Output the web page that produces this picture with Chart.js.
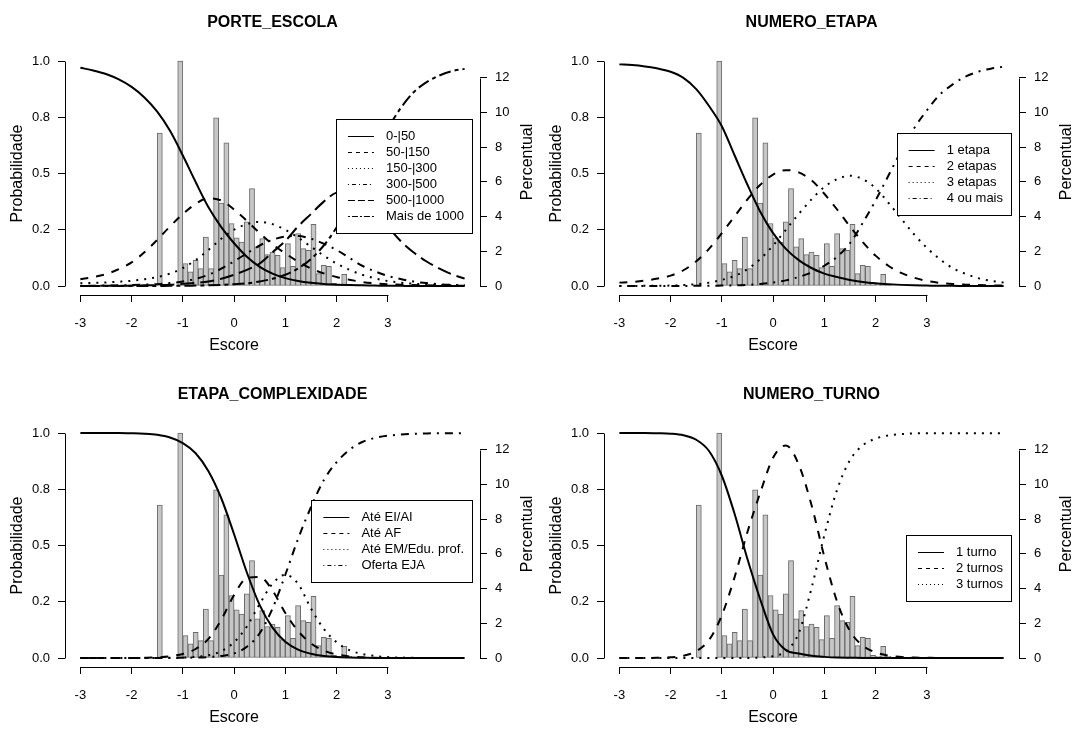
<!DOCTYPE html>
<html><head><meta charset="utf-8">
<script src="https://cdn.jsdelivr.net/npm/chart.js@4/dist/chart.umd.min.js"></script>
<style>
html,body{margin:0;padding:0;background:#fff;}
#wrap{position:relative;width:1077px;height:744px;overflow:hidden;background:#fff;}
canvas{position:absolute;display:block;}
</style></head><body><div id="wrap">
<canvas id="c1" width="538" height="372" style="left:0px;top:0px"></canvas>
<canvas id="c2" width="538" height="372" style="left:539px;top:0px"></canvas>
<canvas id="c3" width="538" height="372" style="left:0px;top:372px"></canvas>
<canvas id="c4" width="538" height="372" style="left:539px;top:372px"></canvas>
</div>
<script>
// ---------- data ----------
const SCORE = [-3,-2.75,-2.5,-2.25,-2,-1.75,-1.5,-1.25,-1,-0.75,-0.5,-0.25,0,0.25,0.5,0.75,1,1.25,1.5,1.75,2,2.25,2.5,2.75,3,3.25,3.5,3.75,4,4.25,4.5];
const X_TICKS = [-3,-2,-1,0,1,2,3];
const Y_TICKS = [0,0.25,0.5,0.75,1];
const Y_TICK_LABELS = ['0.0','0.2','0.5','0.8','1.0'];
const PCT_TICKS = [0,2,4,6,8,10,12];

const HIST_MID = [-1.45,-1.35,-1.25,-1.15,-1.05,-0.95,-0.85,-0.75,-0.65,-0.55,-0.45,-0.35,-0.25,-0.15,-0.05,0.05,0.15,0.25,0.35,0.45,0.55,0.65,0.75,0.85,0.95,1.05,1.15,1.25,1.35,1.45,1.55,1.65,1.75,1.85,1.95,2.05,2.15,2.25];
const HIST_PCT = [8.8,0,0,0,12.95,1.29,0.81,1.48,1.0,2.82,1.0,9.68,4.78,8.24,3.6,2.77,2.53,3.69,5.61,2.25,2.73,1.81,1.96,1.77,1.06,2.44,1.14,3.02,2.15,2.06,3.55,0.71,1.19,1.14,0.15,0.1,0.67,0.1];

// PORTE_ESCOLA
const PORTE_LABELS = ['0-|50','50-|150','150-|300','300-|500','500-|1000','Mais de 1000'];
const PORTE_0_50      = [.970,.958,.942,.918,.885,.838,.775,.690,.580,.462,.350,.262,.190,.130,.085,.055,.035,.022,.014,.009,.006,.004,.003,.002,.001,.001,0,0,0,0,0];
const PORTE_50_150    = [.030,.040,.053,.075,.105,.150,.205,.265,.320,.365,.390,.380,.340,.290,.235,.185,.145,.108,.078,.056,.040,.028,.018,.012,.008,.006,.004,.003,.002,.001,.001];
const PORTE_150_300   = [.012,.014,.016,.019,.023,.030,.040,.055,.080,.115,.160,.210,.250,.275,.285,.275,.250,.215,.175,.135,.100,.072,.050,.034,.022,.015,.010,.007,.004,.003,.002];
const PORTE_300_500   = [.000,.001,.002,.003,.004,.006,.008,.013,.020,.032,.050,.077,.110,.145,.180,.205,.220,.222,.210,.188,.160,.125,.090,.065,.045,.031,.020,.013,.008,.005,.004];
const PORTE_500_1000  = [.000,.000,.001,.001,.002,.003,.004,.006,.010,.014,.020,.032,.050,.072,.100,.150,.200,.265,.320,.375,.415,.420,.400,.340,.265,.200,.150,.110,.078,.052,.033];
const PORTE_MAIS_1000 = [0,0,0,0,0,0,0,.001,.001,.002,.003,.005,.008,.012,.020,.032,.050,.078,.120,.180,.260,.360,.475,.595,.700,.790,.860,.905,.935,.955,.965];

// NUMERO_ETAPA
const ETAPA_LABELS = ['1 etapa','2 etapas','3 etapas','4 ou mais'];
const ETAPA_1 = [.985,.982,.976,.967,.952,.925,.875,.800,.710,.580,.450,.330,.235,.165,.115,.080,.055,.040,.027,.018,.012,.008,.005,.003,.002,.001,.001,0,0,0,0];
const ETAPA_2 = [.015,.018,.024,.033,.046,.070,.110,.165,.235,.310,.385,.450,.495,.515,.505,.470,.410,.340,.265,.195,.135,.090,.058,.037,.023,.014,.009,.006,.004,.003,.002];
const ETAPA_3 = [0,0,.001,.001,.002,.004,.008,.015,.027,.045,.075,.120,.180,.250,.320,.385,.440,.475,.490,.475,.435,.370,.300,.230,.170,.120,.080,.055,.035,.023,.015];
const ETAPA_4 = [0,0,0,0,0,0,.001,.001,.002,.003,.005,.009,.015,.025,.040,.060,.090,.130,.190,.280,.380,.490,.600,.700,.780,.850,.895,.930,.952,.966,.975];

// ETAPA_COMPLEXIDADE
const COMPLEX_LABELS = ['Até EI/AI','Até AF','Até EM/Edu. prof.','Oferta EJA'];
const COMPLEX_EI_AI = [1,1,1,1,.999,.997,.992,.980,.955,.910,.830,.710,.550,.380,.235,.135,.072,.037,.019,.009,.004,.002,.001,0,0,0,0,0,0,0,0];
const COMPLEX_AF    = [0,0,0,0,0,.001,.003,.008,.018,.040,.085,.170,.280,.355,.360,.300,.200,.120,.065,.033,.016,.007,.003,.001,0,0,0,0,0,0,0];
const COMPLEX_EM    = [0,0,0,0,0,0,0,.001,.002,.005,.012,.030,.070,.140,.240,.330,.370,.330,.220,.130,.070,.035,.018,.009,.004,.002,.001,0,0,0,0];
const COMPLEX_EJA   = [0,0,0,0,0,0,0,0,.001,.002,.004,.009,.020,.050,.110,.220,.370,.530,.670,.790,.870,.925,.960,.978,.988,.993,.996,.998,.999,.999,.999];

// NUMERO_TURNO
const TURNO_LABELS = ['1 turno','2 turnos','3 turnos'];
const TURNO_1 = [1,1,1,.999,.997,.990,.970,.920,.810,.640,.440,.260,.105,.035,.020,.010,.005,.002,.001,0,0,0,0,0,0,0,0,0,0,0,0];
const TURNO_2 = [0,0,0,.001,.003,.010,.030,.080,.190,.360,.560,.735,.890,.945,.860,.680,.450,.250,.120,.055,.025,.011,.005,.002,.001,0,0,0,0,0,0];
const TURNO_3 = [0,0,0,0,0,0,0,0,0,0,0,.002,.008,.030,.110,.310,.545,.748,.879,.945,.975,.989,.995,.998,.999,.999,.999,.999,.999,.999,.999];

// ---------- styles ----------
const FONT = '"Liberation Sans", Arial, Helvetica, sans-serif';
const LTY = [[], [8,8], [2,6], [2,6,8,6], [14,6], [4,4,12,4]];
const LTY_LEG = [[], [4,4], [1,3], [1,3,4,3], [7,3], [2,2,6,2]];

const rDeco = {
  id: 'rDeco',
  afterDraw(chart, args, opts) {
    const {ctx, chartArea: ca, scales} = chart;
    const xs = scales.x, ys = scales.y, y2 = scales.y2;
    const al = v => Math.round(v) + 0.5;
    ctx.save();
    ctx.setLineDash([]);
    ctx.strokeStyle = '#000';
    ctx.lineWidth = 1;
    // axis lines spanning tick range
    ctx.beginPath();
    ctx.moveTo(al(xs.getPixelForValue(X_TICKS[0])), al(ca.bottom));
    ctx.lineTo(al(xs.getPixelForValue(X_TICKS[X_TICKS.length-1])), al(ca.bottom));
    ctx.moveTo(al(ca.left), al(ys.getPixelForValue(Y_TICKS[0])));
    ctx.lineTo(al(ca.left), al(ys.getPixelForValue(Y_TICKS[Y_TICKS.length-1])));
    ctx.moveTo(al(ca.right), al(y2.getPixelForValue(PCT_TICKS[0])));
    ctx.lineTo(al(ca.right), al(y2.getPixelForValue(PCT_TICKS[PCT_TICKS.length-1])));
    ctx.stroke();
    // axis titles
    ctx.fillStyle = '#000';
    ctx.font = '16px ' + FONT;
    ctx.textAlign = 'center';
    ctx.textBaseline = 'alphabetic';
    ctx.fillText(opts.xTitle, xs.getPixelForValue(0), 350);
    ctx.save();
    ctx.translate(ca.right + 47.5, opts.y2TitleY);
    ctx.rotate(-Math.PI / 2);
    ctx.textBaseline = 'middle';
    ctx.fillText(opts.y2Title, 0, 0);
    ctx.restore();
    // legend
    const labels = opts.labels;
    ctx.font = '13px ' + FONT;
    let tw = 0;
    labels.forEach(l => { tw = Math.max(tw, ctx.measureText(l).width); });
    const rowH = 16;
    const bw = 12 + 26 + 12 + tw + 8;
    const bh = labels.length * rowH + 18;
    const right = ca.right - 8;
    const left = right - bw;
    const yc = ys.getPixelForValue(opts.legendY);
    const top = yc - bh / 2;
    ctx.fillStyle = '#fff';
    ctx.fillRect(Math.round(left), Math.round(top), Math.round(bw), Math.round(bh));
    ctx.strokeRect(al(left), al(top), Math.round(bw), Math.round(bh));
    ctx.textAlign = 'left';
    ctx.textBaseline = 'middle';
    labels.forEach((l, i) => {
      const ry = top + 9 + rowH * i + rowH / 2;
      ctx.beginPath();
      ctx.setLineDash(LTY_LEG[i]);
      ctx.lineWidth = 1;
      ctx.moveTo(left + 12, al(ry));
      ctx.lineTo(left + 38, al(ry));
      ctx.stroke();
      ctx.fillStyle = '#000';
      ctx.fillText(l, left + 50, ry + 0.5);
    });
    ctx.restore();
  }
};

function makePanel(id, title, labels, series, legendY, y2TitleY) {
  const datasets = [{
    type: 'bar',
    label: 'Percentual',
    data: HIST_MID.map((m, i) => ({x: m, y: HIST_PCT[i]})),
    xAxisID: 'x', yAxisID: 'y2',
    backgroundColor: '#c6c6c6', borderColor: '#6a6a6a', borderWidth: 1,
    borderSkipped: false, barPercentage: 1, categoryPercentage: 1, order: 5
  }];
  series.forEach((vals, k) => {
    datasets.push({
      type: 'line', label: labels[k],
      data: SCORE.map((s, i) => ({x: s, y: vals[i]})),
      xAxisID: 'x', yAxisID: 'y',
      borderColor: '#000', borderWidth: 2, borderDash: LTY[k], borderCapStyle: 'butt',
      pointRadius: 0, fill: false, cubicInterpolationMode: 'monotone', order: 1
    });
  });
  const tickFont = {family: FONT, size: 13};
  const gridOpts = {display: true, offset: false, drawOnChartArea: false, drawTicks: true, tickLength: 7, color: '#000', tickWidth: 1};
  new Chart(document.getElementById(id), {
    type: 'line',
    data: {datasets},
    options: {
      responsive: false, animation: false, devicePixelRatio: 1, events: [],
      layout: {padding: {left: 7, right: 0, top: 0, bottom: 0}},
      plugins: {
        legend: {display: false}, tooltip: {enabled: false},
        title: {display: true, text: title, color: '#000',
                font: {family: FONT, size: 16, weight: 'bold'}, padding: {top: 12.8, bottom: 20}},
        rDeco: {labels, legendY, xTitle: 'Escore', y2Title: 'Percentual', y2TitleY}
      },
      scales: {
        x: {
          type: 'linear', position: 'bottom', min: -3.3, max: 4.8, offset: false, bounds: 'data',
          afterBuildTicks: s => { s.ticks = X_TICKS.map(v => ({value: v})); },
          afterFit: s => { s.height = 77; },
          grid: gridOpts,
          border: {display: false},
          ticks: {font: tickFont, color: '#000', padding: 14, maxRotation: 0, autoSkip: false, callback: v => String(v)}
        },
        y: {
          type: 'linear', position: 'left', min: -0.04, max: 1.04, bounds: 'data', offset: false,
          afterBuildTicks: s => { s.ticks = Y_TICKS.map(v => ({value: v})); },
          afterFit: s => { s.width = 58; },
          grid: gridOpts,
          border: {display: false},
          title: {display: true, text: 'Probabilidade', color: '#000', font: {family: FONT, size: 16}, padding: {top: 1, bottom: 0}},
          ticks: {font: tickFont, color: '#000', padding: 8, autoSkip: false, callback: (v, i) => Y_TICK_LABELS[i]}
        },
        y2: {
          type: 'linear', position: 'right', min: -0.518, max: 13.475, bounds: 'data', offset: false,
          afterBuildTicks: s => { s.ticks = PCT_TICKS.map(v => ({value: v})); },
          afterFit: s => { s.width = 58; },
          grid: gridOpts,
          border: {display: false},
          ticks: {font: tickFont, color: '#000', padding: 8, autoSkip: false, callback: v => String(v)}
        }
      }
    },
    plugins: [rDeco]
  });
}

makePanel('c1', 'PORTE_ESCOLA', PORTE_LABELS,
  [PORTE_0_50, PORTE_50_150, PORTE_150_300, PORTE_300_500, PORTE_500_1000, PORTE_MAIS_1000], 0.49, 162);
makePanel('c2', 'NUMERO_ETAPA', ETAPA_LABELS, [ETAPA_1, ETAPA_2, ETAPA_3, ETAPA_4], 0.50, 162);
makePanel('c3', 'ETAPA_COMPLEXIDADE', COMPLEX_LABELS, [COMPLEX_EI_AI, COMPLEX_AF, COMPLEX_EM, COMPLEX_EJA], 0.52, 162);
makePanel('c4', 'NUMERO_TURNO', TURNO_LABELS, [TURNO_1, TURNO_2, TURNO_3], 0.40, 162);
</script>
</body></html>
